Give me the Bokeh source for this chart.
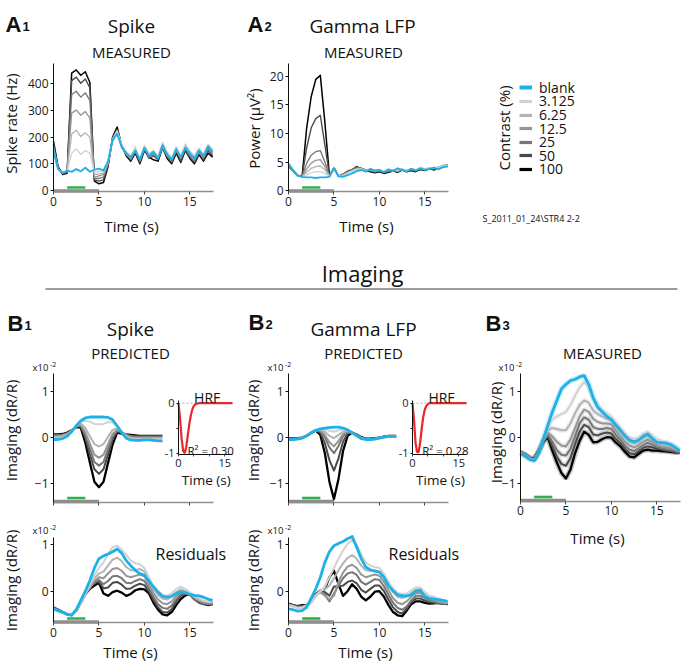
from math import pi
from bokeh.plotting import figure
from bokeh.models import Range1d, Label, Legend, LegendItem, FixedTicker, LinearAxis
from bokeh.embed import file_html
from bokeh.resources import INLINE

FONT = "Open Sans"
BOLD = "Liberation Sans"

# ---------------------------------------------------------------- data
TIME = [0, 0.5, 1, 1.5, 2, 2.5, 3, 3.5, 4, 4.5, 5, 5.5, 6, 6.5, 7, 7.5, 8, 8.5,
        9, 9.5, 10, 10.5, 11, 11.5, 12, 12.5, 13, 13.5, 14, 14.5, 15, 15.5, 16, 16.5, 17, 17.5]
CONDITIONS = ["blank", "3.125", "6.25", "12.5", "25", "50", "100"]
STIM_TRIAL = [0, 5]
STIM_ON = [1.5, 3.5]

# A1: spike rate (Hz), measured
a1_blank = [150, 80, 65, 75, 70, 80, 72, 85, 70, 78, 82, 75, 110, 190, 212, 165, 140, 125,
            150, 115, 160, 130, 145, 120, 170, 135, 115, 155, 125, 160, 140, 120, 150, 130, 165, 145]
a1_c3125 = [150, 80, 66, 75, 140, 156, 135, 150, 140, 70, 72, 70, 108, 195, 225, 175, 145, 130,
            165, 120, 170, 140, 150, 130, 180, 145, 125, 165, 130, 175, 150, 130, 160, 135, 175, 155]
a1_c625 = [155, 80, 68, 74, 212, 226, 202, 216, 200, 60, 62, 65, 105, 190, 220, 170, 140, 125,
           155, 120, 165, 135, 145, 125, 175, 140, 120, 160, 130, 170, 140, 125, 155, 130, 170, 150]
a1_c125 = [160, 82, 66, 72, 290, 302, 282, 296, 272, 50, 55, 60, 100, 185, 215, 165, 135, 120,
           150, 115, 155, 130, 140, 120, 165, 130, 115, 150, 120, 160, 135, 115, 145, 125, 160, 140]
a1_c25 = [165, 85, 65, 70, 360, 372, 350, 366, 338, 45, 45, 50, 100, 190, 222, 160, 140, 115,
          145, 110, 160, 125, 135, 120, 160, 130, 110, 150, 120, 155, 130, 110, 145, 120, 155, 135]
a1_c50 = [175, 85, 62, 68, 412, 425, 402, 418, 385, 40, 35, 40, 95, 195, 228, 165, 135, 120,
          150, 105, 155, 120, 130, 115, 165, 125, 105, 145, 110, 155, 125, 105, 140, 115, 150, 130]
a1_c100 = [185, 90, 60, 65, 440, 452, 432, 445, 405, 35, 25, 30, 90, 200, 238, 170, 130, 110,
           140, 100, 150, 125, 115, 110, 160, 120, 100, 140, 105, 150, 120, 100, 135, 110, 140, 125]

# A2: gamma LFP power (uV^2), measured
a2_blank = [4.7, 3.6, 2.6, 2.4, 2.3, 2.3, 2.2, 2.3, 2.3, 2.4, 3.9, 2.5, 2.4, 2.7, 3.0, 3.4, 3.6, 3.3,
            3.8, 3.5, 3.6, 3.2, 3.7, 3.4, 3.9, 3.6, 3.3, 3.8, 3.5, 3.9, 3.6, 3.8, 4.0, 3.7, 4.1, 4.2]
a2_c3125 = [4.7, 3.6, 2.6, 2.4, 2.8, 3.1, 3.3, 3.3, 3.0, 2.5, 4.0, 2.5, 2.6, 3.0, 3.4, 3.7, 3.8, 3.4,
            3.8, 3.5, 3.7, 3.3, 3.7, 3.5, 3.6, 3.8, 3.4, 3.9, 3.6, 4.1, 3.8, 4.0, 4.0, 4.0, 4.5, 4.5]
a2_c625 = [4.6, 3.6, 2.6, 2.4, 3.2, 3.9, 4.2, 4.3, 3.6, 2.5, 4.0, 2.5, 2.7, 3.1, 3.5, 3.8, 3.8, 3.5,
           3.7, 3.4, 3.6, 3.3, 3.6, 3.6, 3.5, 3.8, 3.5, 3.8, 3.6, 4.0, 3.8, 4.0, 3.9, 4.1, 4.4, 4.4]
a2_c125 = [4.5, 3.6, 2.6, 2.4, 3.8, 4.8, 5.3, 5.4, 4.2, 2.5, 4.0, 2.5, 2.8, 3.2, 3.5, 3.9, 3.9, 3.6,
           3.6, 3.4, 3.5, 3.3, 3.5, 3.6, 3.4, 3.7, 3.5, 3.8, 3.6, 3.9, 3.7, 3.9, 3.9, 4.0, 4.3, 4.3]
a2_c25 = [4.4, 3.5, 2.6, 2.4, 4.8, 6.2, 6.8, 7.0, 5.0, 2.6, 4.0, 2.5, 2.8, 3.3, 3.6, 4.0, 3.8, 3.5,
          3.5, 3.3, 3.5, 3.2, 3.4, 3.5, 3.3, 3.6, 3.5, 3.7, 3.5, 3.9, 3.7, 3.9, 3.8, 4.0, 4.2, 4.3]
a2_c50 = [4.2, 3.4, 2.6, 2.5, 7.5, 11.0, 12.6, 13.2, 8.0, 2.7, 3.9, 2.5, 2.9, 3.4, 3.7, 4.1, 3.9, 3.6,
          3.4, 3.2, 3.4, 3.1, 3.3, 3.5, 3.3, 3.7, 3.4, 3.6, 3.4, 3.8, 3.6, 3.8, 3.7, 4.1, 4.3, 4.4]
a2_c100 = [4.3, 3.5, 2.7, 2.5, 11.0, 16.5, 19.5, 20.2, 12.0, 2.6, 4.0, 2.5, 2.8, 3.3, 3.6, 4.2, 3.8, 3.5,
           3.3, 3.1, 3.3, 3.0, 3.2, 3.4, 3.2, 3.6, 3.3, 3.5, 3.3, 3.7, 3.5, 3.9, 3.6, 4.0, 4.4, 4.5]

# B1 top: imaging predicted from spikes (x1e-2)
b1t_blank = [-0.05, -0.05, -0.03, 0.02, 0.12, 0.25, 0.36, 0.42, 0.44, 0.44, 0.44, 0.44,
             0.43, 0.38, 0.25, 0.10, -0.02, -0.06, -0.07, -0.07, -0.06, -0.06, -0.07, -0.08,
             -0.08, -0.08, -0.07, -0.07, -0.06, -0.06, -0.06, -0.06, -0.05, -0.05, -0.05, -0.05]
b1t_c3125 = [-0.03, -0.03, -0.01, 0.04, 0.13, 0.25, 0.34, 0.36, 0.34, 0.29, 0.28, 0.29,
             0.33, 0.32, 0.23, 0.11, 0.0, -0.04, -0.05, -0.05, -0.05, -0.05, -0.05, -0.05,
             -0.05, -0.05, -0.05, -0.05, -0.05, -0.05, -0.05, -0.05, -0.05, -0.05, -0.05, -0.05]
b1t_c625 = [0.0, 0.0, 0.02, 0.05, 0.13, 0.25, 0.30, 0.20, 0.02, -0.15, -0.20, -0.15,
            0.01, 0.16, 0.19, 0.12, 0.02, -0.02, -0.03, -0.03, -0.03, -0.03, -0.03, -0.03,
            -0.03, -0.03, -0.03, -0.03, -0.03, -0.03, -0.03, -0.03, -0.03, -0.03, -0.03, -0.03]
b1t_c125 = [0.02, 0.02, 0.04, 0.07, 0.14, 0.24, 0.27, 0.11, -0.14, -0.38, -0.45, -0.38,
            -0.15, 0.07, 0.16, 0.12, 0.04, 0.0, -0.01, -0.01, -0.01, -0.01, -0.01, -0.01,
            -0.01, -0.01, -0.01, -0.01, -0.01, -0.01, -0.01, -0.01, -0.01, -0.01, -0.01, -0.01]
b1t_c25 = [0.04, 0.04, 0.05, 0.08, 0.15, 0.24, 0.25, 0.05, -0.25, -0.54, -0.62, -0.54,
           -0.26, 0.01, 0.14, 0.11, 0.05, 0.02, 0.01, 0.01, 0.01, 0.01, 0.01, 0.01,
           0.01, 0.01, 0.01, 0.01, 0.01, 0.01, 0.01, 0.01, 0.01, 0.01, 0.01, 0.01]
b1t_c50 = [0.05, 0.05, 0.06, 0.09, 0.15, 0.23, 0.24, -0.01, -0.37, -0.70, -0.80, -0.70,
           -0.38, -0.05, 0.13, 0.10, 0.05, 0.03, 0.02, 0.02, 0.02, 0.02, 0.02, 0.02,
           0.02, 0.02, 0.02, 0.02, 0.02, 0.02, 0.02, 0.02, 0.02, 0.02, 0.02, 0.02]
b1t_c100 = [0.06, 0.06, 0.07, 0.10, 0.15, 0.22, 0.21, -0.12, -0.55, -0.97, -1.09, -0.97,
            -0.56, -0.16, 0.10, 0.08, 0.06, 0.05, 0.04, 0.03, 0.03, 0.03, 0.03, 0.03,
            0.03, 0.03, 0.03, 0.03, 0.03, 0.03, 0.03, 0.03, 0.03, 0.03, 0.03, 0.03]

# B2 top: imaging predicted from gamma LFP (x1e-2)
b2t_blank = [-0.05, -0.05, -0.04, -0.02, 0.03, 0.10, 0.15, 0.18, 0.20, 0.21, 0.22, 0.22,
             0.20, 0.16, 0.10, 0.03, -0.03, -0.05, -0.05, -0.04, -0.02, 0.0, 0.02, 0.02,
             0.01, 0.0, 0.0, 0.01, 0.02, 0.02, 0.02, 0.01, 0.01, 0.02, 0.03, 0.03]
b2t_c3125 = [-0.05, -0.05, -0.04, -0.02, 0.03, 0.10, 0.15, 0.17, 0.17, 0.14, 0.12, 0.15,
             0.17, 0.15, 0.10, 0.03, -0.03, -0.05, -0.05, -0.04, -0.02, 0.0, 0.02, 0.02,
             0.01, 0.0, 0.0, 0.01, 0.02, 0.02, 0.02, 0.01, 0.01, 0.02, 0.03, 0.03]
b2t_c625 = [-0.04, -0.04, -0.04, -0.02, 0.03, 0.10, 0.15, 0.16, 0.12, 0.03, -0.02, 0.05,
            0.12, 0.14, 0.10, 0.04, -0.02, -0.05, -0.05, -0.04, -0.02, 0.0, 0.02, 0.02,
            0.01, 0.0, 0.0, 0.01, 0.02, 0.02, 0.02, 0.01, 0.01, 0.02, 0.03, 0.03]
b2t_c125 = [-0.04, -0.04, -0.03, -0.02, 0.03, 0.10, 0.15, 0.15, 0.05, -0.11, -0.20, -0.08,
            0.07, 0.13, 0.10, 0.04, -0.02, -0.04, -0.04, -0.03, -0.01, 0.0, 0.02, 0.02,
            0.01, 0.01, 0.01, 0.02, 0.03, 0.03, 0.02, 0.02, 0.02, 0.03, 0.03, 0.03]
b2t_c25 = [-0.03, -0.03, -0.03, -0.02, 0.03, 0.10, 0.15, 0.13, 0.0, -0.22, -0.35, -0.19,
           0.02, 0.11, 0.10, 0.05, -0.01, -0.04, -0.04, -0.03, -0.01, 0.01, 0.02, 0.02,
           0.02, 0.01, 0.01, 0.02, 0.03, 0.03, 0.03, 0.02, 0.02, 0.03, 0.04, 0.04]
b2t_c50 = [-0.03, -0.03, -0.03, -0.01, 0.03, 0.09, 0.15, 0.10, -0.13, -0.50, -0.73, -0.46,
           -0.10, 0.08, 0.10, 0.05, -0.01, -0.04, -0.04, -0.03, -0.01, 0.01, 0.02, 0.02,
           0.02, 0.01, 0.01, 0.02, 0.03, 0.03, 0.03, 0.03, 0.03, 0.04, 0.04, 0.04]
b2t_c100 = [-0.02, -0.02, -0.02, -0.01, 0.03, 0.09, 0.15, 0.05, -0.35, -0.97, -1.35, -0.91,
            -0.30, 0.03, 0.10, 0.06, 0.0, -0.03, -0.03, -0.02, -0.01, 0.01, 0.03, 0.03,
            0.03, 0.02, 0.02, 0.03, 0.04, 0.04, 0.04, 0.04, 0.04, 0.05, 0.05, 0.05]

# B1 bottom: residuals (spike)
b1b_blank = [-0.38, -0.42, -0.45, -0.50, -0.52, -0.40, -0.20, 0.0, 0.23, 0.50, 0.70, 0.76,
             0.80, 0.85, 0.91, 0.82, 0.66, 0.55, 0.45, 0.38, 0.34, 0.22, 0.09, -0.02,
             -0.11, -0.13, -0.11, -0.05, -0.01, -0.03, -0.07, -0.09, -0.10, -0.13, -0.17, -0.20]
b1b_c3125 = [-0.40, -0.44, -0.47, -0.50, -0.50, -0.42, -0.25, -0.05, 0.15, 0.35, 0.50, 0.62,
             0.80, 0.95, 0.98, 0.90, 0.78, 0.66, 0.60, 0.58, 0.50, 0.30, 0.12, 0.0,
             -0.08, -0.10, -0.05, 0.05, 0.10, 0.05, -0.02, -0.10, -0.15, -0.20, -0.22, -0.22]
b1b_c625 = [-0.38, -0.43, -0.47, -0.50, -0.50, -0.42, -0.25, -0.06, 0.10, 0.28, 0.38, 0.42,
            0.55, 0.68, 0.72, 0.65, 0.52, 0.45, 0.45, 0.48, 0.42, 0.22, 0.05, -0.08,
            -0.16, -0.18, -0.12, -0.02, 0.04, 0.0, -0.05, -0.12, -0.18, -0.22, -0.24, -0.24]
b1b_c125 = [-0.37, -0.42, -0.46, -0.50, -0.50, -0.42, -0.25, -0.06, 0.08, 0.22, 0.30, 0.28,
            0.38, 0.48, 0.50, 0.44, 0.33, 0.30, 0.33, 0.36, 0.32, 0.14, -0.04, -0.18,
            -0.26, -0.28, -0.22, -0.10, -0.02, -0.03, -0.07, -0.14, -0.20, -0.24, -0.26, -0.26]
b1b_c25 = [-0.36, -0.41, -0.46, -0.50, -0.50, -0.42, -0.25, -0.06, 0.07, 0.20, 0.24, 0.15,
           0.22, 0.32, 0.33, 0.28, 0.18, 0.17, 0.22, 0.26, 0.22, 0.06, -0.12, -0.28,
           -0.36, -0.38, -0.31, -0.17, -0.06, -0.05, -0.08, -0.16, -0.22, -0.26, -0.28, -0.27]
b1b_c50 = [-0.35, -0.40, -0.45, -0.50, -0.50, -0.42, -0.25, -0.06, 0.06, 0.18, 0.20, 0.06,
           0.08, 0.18, 0.20, 0.14, 0.05, 0.06, 0.12, 0.16, 0.13, -0.01, -0.19, -0.35,
           -0.45, -0.46, -0.39, -0.22, -0.10, -0.06, -0.08, -0.18, -0.25, -0.28, -0.29, -0.27]
b1b_c100 = [-0.35, -0.40, -0.45, -0.50, -0.50, -0.42, -0.25, -0.06, 0.05, 0.12, 0.18, -0.05,
            -0.10, -0.02, 0.01, -0.03, -0.10, -0.06, 0.02, 0.05, 0.04, -0.05, -0.25, -0.40,
            -0.50, -0.52, -0.45, -0.30, -0.17, -0.09, -0.07, -0.12, -0.20, -0.27, -0.30, -0.28]

# B2 bottom: residuals (gamma LFP)
b2b_blank = [-0.38, -0.40, -0.43, -0.42, -0.35, -0.15, 0.05, 0.30, 0.62, 0.85, 0.98, 1.03,
             1.07, 1.13, 1.18, 0.95, 0.70, 0.52, 0.46, 0.43, 0.41, 0.30, 0.12, 0.01,
             -0.08, -0.10, -0.10, -0.08, 0.0, 0.02, -0.12, -0.16, -0.17, -0.18, -0.20, -0.22]
b2b_c3125 = [-0.30, -0.33, -0.36, -0.35, -0.32, -0.25, -0.10, 0.0, 0.10, 0.30, 0.50, 0.70,
             0.88, 1.02, 1.10, 1.00, 0.80, 0.62, 0.55, 0.52, 0.50, 0.38, 0.20, 0.06,
             -0.04, -0.06, -0.05, 0.02, 0.08, 0.08, -0.02, -0.10, -0.12, -0.16, -0.20, -0.22]
b2b_c625 = [-0.30, -0.33, -0.36, -0.35, -0.32, -0.25, -0.10, 0.0, 0.04, 0.12, 0.28, 0.45,
            0.60, 0.72, 0.78, 0.70, 0.55, 0.45, 0.44, 0.45, 0.42, 0.30, 0.12, -0.02,
            -0.12, -0.15, -0.12, -0.04, 0.04, 0.04, -0.05, -0.12, -0.16, -0.20, -0.22, -0.24]
b2b_c125 = [-0.29, -0.32, -0.35, -0.34, -0.31, -0.24, -0.10, -0.02, -0.10, -0.18, -0.10, 0.20,
            0.40, 0.53, 0.57, 0.50, 0.36, 0.30, 0.33, 0.36, 0.33, 0.20, 0.02, -0.15,
            -0.25, -0.28, -0.22, -0.12, -0.04, -0.04, -0.10, -0.16, -0.20, -0.23, -0.25, -0.26]
b2b_c25 = [-0.28, -0.31, -0.34, -0.33, -0.30, -0.23, -0.08, 0.0, -0.08, -0.22, -0.05, 0.12,
           0.28, 0.38, 0.41, 0.35, 0.20, 0.14, 0.20, 0.26, 0.24, 0.10, -0.08, -0.25,
           -0.36, -0.40, -0.33, -0.20, -0.10, -0.10, -0.15, -0.20, -0.23, -0.25, -0.26, -0.27]
b2b_c50 = [-0.27, -0.30, -0.33, -0.32, -0.30, -0.22, -0.06, 0.02, -0.02, -0.10, 0.10, 0.10,
           0.12, 0.20, 0.23, 0.17, 0.03, -0.03, 0.05, 0.12, 0.12, 0.0, -0.18, -0.35,
           -0.45, -0.48, -0.38, -0.24, -0.16, -0.16, -0.20, -0.24, -0.25, -0.26, -0.27, -0.28]
b2b_c100 = [-0.27, -0.30, -0.32, -0.30, -0.30, -0.22, -0.08, 0.0, 0.05, 0.30, 0.44, 0.15,
            -0.10, 0.0, 0.15, 0.05, -0.12, -0.20, -0.12, -0.01, 0.0, -0.12, -0.30, -0.45,
            -0.52, -0.54, -0.42, -0.28, -0.22, -0.22, -0.25, -0.27, -0.26, -0.25, -0.27, -0.28]

# B3: imaging measured (x1e-2)
b3_blank = [-0.36, -0.40, -0.48, -0.51, -0.35, -0.05, 0.25, 0.55, 0.80, 1.05, 1.15, 1.23,
            1.26, 1.31, 1.34, 1.15, 0.85, 0.65, 0.55, 0.45, 0.38, 0.26, 0.15, 0.03,
            -0.06, -0.10, -0.06, 0.02, 0.07, -0.03, -0.11, -0.12, -0.13, -0.16, -0.22, -0.29]
b3_c3125 = [-0.34, -0.40, -0.47, -0.50, -0.33, -0.06, 0.22, 0.38, 0.45, 0.50, 0.55, 0.70,
            0.90, 1.08, 1.20, 1.10, 0.85, 0.70, 0.60, 0.52, 0.45, 0.32, 0.20, 0.08,
            0.0, -0.04, 0.0, 0.08, 0.12, 0.04, -0.04, -0.08, -0.10, -0.14, -0.20, -0.26]
b3_c625 = [-0.34, -0.39, -0.46, -0.49, -0.32, -0.07, 0.15, 0.20, 0.18, 0.15, 0.15, 0.30,
           0.52, 0.70, 0.80, 0.75, 0.58, 0.50, 0.45, 0.40, 0.36, 0.22, 0.10, -0.02,
           -0.10, -0.14, -0.10, -0.02, 0.03, -0.04, -0.12, -0.15, -0.17, -0.20, -0.25, -0.30]
b3_c125 = [-0.33, -0.39, -0.46, -0.49, -0.32, -0.08, 0.10, 0.02, -0.10, -0.18, -0.20, -0.05,
           0.20, 0.45, 0.60, 0.55, 0.40, 0.33, 0.30, 0.30, 0.28, 0.14, 0.02, -0.10,
           -0.18, -0.22, -0.17, -0.10, -0.05, -0.10, -0.17, -0.20, -0.22, -0.24, -0.27, -0.31]
b3_c25 = [-0.33, -0.38, -0.45, -0.48, -0.31, -0.09, 0.06, -0.10, -0.28, -0.38, -0.40, -0.25,
          0.02, 0.30, 0.43, 0.38, 0.22, 0.18, 0.18, 0.20, 0.18, 0.05, -0.06, -0.18,
          -0.27, -0.30, -0.24, -0.17, -0.12, -0.16, -0.21, -0.24, -0.26, -0.28, -0.30, -0.32]
b3_c50 = [-0.33, -0.38, -0.45, -0.48, -0.31, -0.10, 0.03, -0.20, -0.42, -0.58, -0.62, -0.45,
          -0.15, 0.12, 0.27, 0.22, 0.06, 0.04, 0.08, 0.10, 0.08, -0.04, -0.13, -0.25,
          -0.35, -0.37, -0.30, -0.23, -0.20, -0.22, -0.25, -0.27, -0.29, -0.30, -0.32, -0.33]
b3_c100 = [-0.33, -0.38, -0.45, -0.47, -0.30, -0.10, 0.0, -0.29, -0.55, -0.78, -0.90, -0.70,
           -0.35, -0.08, 0.12, 0.05, -0.11, -0.10, -0.04, 0.0, -0.01, -0.12, -0.20, -0.32,
           -0.42, -0.44, -0.36, -0.29, -0.27, -0.29, -0.29, -0.30, -0.31, -0.32, -0.33, -0.33]

# HRF insets (normalised)
hrf_spike = [0, -0.3, -0.7, -0.95, -1.0, -0.88, -0.65, -0.42, -0.24, -0.12, -0.05, -0.02,
             -0.01, 0, 0, 0, 0, 0, 0, 0, 0, 0, 0, 0, 0, 0, 0, 0, 0, 0, 0, 0, 0, 0, 0, 0]
hrf_gamma = [0, -0.35, -0.8, -0.98, -0.98, -0.78, -0.5, -0.27, -0.12, -0.05, -0.02, 0,
             0, 0, 0, 0, 0, 0, 0, 0, 0, 0, 0, 0, 0, 0, 0, 0, 0, 0, 0, 0, 0, 0, 0, 0]
HRF_BASELINE = 0
R2_SPIKE = "R\u00b2 = 0.30"
R2_GAMMA = "R\u00b2 = 0.28"


def series(blank, c3125, c625, c125, c25, c50, c100):
    d = {"blank": blank, "3.125": c3125, "6.25": c625, "12.5": c125, "25": c25, "50": c50, "100": c100}
    for k, v in d.items():
        if len(v) != len(TIME):
            raise ValueError(f"series {k} has {len(v)} values")
    return d


A1 = series(a1_blank, a1_c3125, a1_c625, a1_c125, a1_c25, a1_c50, a1_c100)
A2 = series(a2_blank, a2_c3125, a2_c625, a2_c125, a2_c25, a2_c50, a2_c100)
B1T = series(b1t_blank, b1t_c3125, b1t_c625, b1t_c125, b1t_c25, b1t_c50, b1t_c100)
B2T = series(b2t_blank, b2t_c3125, b2t_c625, b2t_c125, b2t_c25, b2t_c50, b2t_c100)
B1B = series(b1b_blank, b1b_c3125, b1b_c625, b1b_c125, b1b_c25, b1b_c50, b1b_c100)
B2B = series(b2b_blank, b2b_c3125, b2b_c625, b2b_c125, b2b_c25, b2b_c50, b2b_c100)
B3 = series(b3_blank, b3_c3125, b3_c625, b3_c125, b3_c25, b3_c50, b3_c100)

# ---------------------------------------------------------------- style
COLORS = {"blank": "#1eb1e7", "3.125": "#d2d2d2", "6.25": "#b3b3b3", "12.5": "#959595",
          "25": "#767676", "50": "#4a4a4a", "100": "#000000"}
DRAW_ORDER = ["100", "50", "25", "12.5", "6.25", "3.125", "blank"]
W_A = {"blank": 1.9, "3.125": 1.3, "6.25": 1.3, "12.5": 1.3, "25": 1.3, "50": 1.4, "100": 1.5}
W_B = {"blank": 2.8, "3.125": 2.0, "6.25": 2.0, "12.5": 2.0, "25": 2.0, "50": 2.0, "100": 2.3}

# one canvas; the default ranges are page pixels (y downwards) for the texts,
# every panel gets its own data ranges mapped onto its own box.
PX0, PX1, PY0, PY1 = 0, 682, 0, 663
p = figure(width=PX1 - PX0, height=PY1 - PY0, x_range=Range1d(PX0, PX1), y_range=Range1d(PY1, PY0),
           x_axis_type=None, y_axis_type=None, output_backend="svg", toolbar_location=None,
           min_border=0)
p.outline_line_color = None


def panel(name, frame, xr, yr):
    x0, y0, x1, y1 = frame
    dx = (xr[1] - xr[0]) / (x1 - x0)
    dy = (yr[1] - yr[0]) / (y1 - y0)
    p.extra_x_ranges[name] = Range1d(xr[0] - (x0 - PX0) * dx, xr[1] + (PX1 - x1) * dx)
    p.extra_y_ranges[name] = Range1d(yr[0] - (PY1 - y1) * dy, yr[1] + (y0 - PY0) * dy)
    return dict(x_range_name=name, y_range_name=name), 1.0 / dy


def axes(name, xr, yr, xticks, yticks, xover=None, yover=None, tick_font="12px",
         xcolor="#8f8f8f", xwidth=1.6, tick_out=3):
    ya = LinearAxis(x_range_name=name, y_range_name=name, fixed_location=xr[0], bounds=yr,
                    ticker=FixedTicker(ticks=yticks, minor_ticks=[]))
    xa = LinearAxis(x_range_name=name, y_range_name=name, fixed_location=yr[0], bounds=xr,
                    ticker=FixedTicker(ticks=xticks, minor_ticks=[]))
    for ax in (xa, ya):
        ax.major_tick_in = 0
        ax.major_tick_out = tick_out
        ax.minor_tick_line_color = None
        ax.major_label_text_font = FONT
        ax.major_label_text_font_size = tick_font
        ax.major_label_text_color = "#1a1a1a"
        ax.major_label_standoff = 2
    ya.axis_line_color = "#111111"
    ya.major_tick_line_color = "#111111"
    xa.axis_line_color = xcolor
    xa.axis_line_width = xwidth
    xa.major_tick_line_color = "#444444"
    if xover:
        xa.major_label_overrides = xover
    if yover:
        ya.major_label_overrides = yover
    p.add_layout(ya, "left")
    p.add_layout(xa, "below")


def draw_series(rn, data, widths, halo=False):
    if halo:
        for c in DRAW_ORDER:
            p.line(TIME, data[c], line_color=COLORS[c], line_width=widths[c] + 3.0,
                   line_alpha=0.22, **rn)
    for c in DRAW_ORDER:
        p.line(TIME, data[c], line_color=COLORS[c], line_width=widths[c], line_join="round", **rn)


def draw_stim(rn, yr, ppu):
    y_gray = yr[0] + 0.5 / ppu
    y_green = yr[0] + 4.0 / ppu
    p.line(STIM_TRIAL, [y_gray, y_gray], line_color="#8d8d8d", line_width=3.4, **rn)
    p.line(STIM_ON, [y_green, y_green], line_color="#30b04c", line_width=2.6, **rn)


def txt(x, y, s, size, align="center", baseline="middle", font=FONT, style="normal", angle=0.0):
    p.add_layout(Label(x=x, y=y, text=s, text_font=font, text_font_size=size,
                       text_align=align, text_baseline=baseline, text_font_style=style,
                       text_color="#111111", angle=angle))


XT = [0, 5, 10, 15]
NOLAB = {0: "", 5: "", 10: "", 15: ""}
MINUS1 = {-1: "\u22121"}
XR = (0, 17.6)

# ---------------------------------------------------------------- A1
yA1 = (-3.75, 476)
rn, ppu = panel("a1", (53, 63, 213, 191), XR, yA1)
draw_stim(rn, yA1, ppu)
draw_series(rn, A1, W_A)
axes("a1", XR, yA1, XT, [0, 100, 200, 300, 400])

# ---------------------------------------------------------------- A2
yA2 = (-0.175, 22.28)
rn, ppu = panel("a2", (288, 63, 448, 191), XR, yA2)
draw_stim(rn, yA2, ppu)
draw_series(rn, A2, W_A)
axes("a2", XR, yA2, XT, [0, 5, 10, 15, 20])

# ---------------------------------------------------------------- B1 / B2 top
yBT = (-1.413, 1.389)
rn, ppu = panel("b1t", (53, 373, 213, 501.5), XR, yBT)
draw_stim(rn, yBT, ppu)
draw_series(rn, B1T, W_B)
axes("b1t", XR, yBT, XT, [-1, 0, 1], xover=NOLAB, yover=MINUS1)

rn, ppu = panel("b2t", (288, 373, 448, 501.5), XR, yBT)
draw_stim(rn, yBT, ppu)
draw_series(rn, B2T, W_B)
axes("b2t", XR, yBT, XT, [-1, 0, 1], xover=NOLAB, yover=MINUS1)

# ---------------------------------------------------------------- B1 / B2 bottom
yBB = (-0.675, 1.157)
rn, ppu = panel("b1b", (53, 537, 213, 622), XR, yBB)
draw_stim(rn, yBB, ppu)
draw_series(rn, B1B, W_B)
axes("b1b", XR, yBB, XT, [0, 1])

rn, ppu = panel("b2b", (288, 537, 448, 622), XR, yBB)
draw_stim(rn, yBB, ppu)
draw_series(rn, B2B, W_B)
axes("b2b", XR, yBB, XT, [0, 1])

# ---------------------------------------------------------------- B3
yB3 = (-1.387, 1.385)
rn, ppu = panel("b3", (520, 373, 680, 500.5), XR, yB3)
draw_stim(rn, yB3, ppu)
draw_series(rn, B3, W_B, halo=True)
axes("b3", XR, yB3, XT, [-1, 0, 1], yover=MINUS1)


# ---------------------------------------------------------------- HRF insets
def inset(name, frame, hrf):
    xr, yr = (0, 17.5), (-1.026, 0.054)
    rn, ppu = panel(name, frame, xr, yr)
    x0, y0, x1, y1 = frame
    ppx = (x1 - x0) / (xr[1] - xr[0])
    # white backing box of the inset (covers the main traces underneath)
    p.quad(left=[xr[0] - 16 / ppx], right=[xr[1] + 2 / ppx],
           bottom=[yr[0] - 28 / ppu], top=[yr[1] + 3 / ppu],
           fill_color="white", line_color=None, **rn)
    p.line([xr[0], xr[1]], [HRF_BASELINE, HRF_BASELINE], line_color="#b0b0b0",
           line_dash="2 2", line_width=1, **rn)
    p.line(TIME, hrf, line_color="#e8262b", line_width=2.2, **rn)
    axes(name, xr, yr, XT, [-1, -0.5, 0], xover={0: "0", 5: "", 10: "", 15: "15"},
         yover={-1: "-1", -0.5: "", 0: "0"}, tick_font="11px", xcolor="#111111",
         xwidth=1.0, tick_out=2)


inset("h1", (178, 400, 232, 454), hrf_spike)
inset("h2", (412, 400, 466, 454), hrf_gamma)

# ---------------------------------------------------------------- legend (one row per legend)
NAN = float("nan")
ROW_H = 20
for i, c in enumerate(CONDITIONS):
    r = p.line(x=[NAN, NAN], y=[NAN, NAN], line_color=COLORS[c],
               line_width=4 if c == "blank" else 3.2)
    row_center = 87.3 + 13.6 * i
    leg = Legend(items=[LegendItem(label=c, renderers=[r])],
                 location=(519 - PX0, PY1 - (row_center + ROW_H / 2)),
                 glyph_width=13, glyph_height=ROW_H, label_height=ROW_H, label_standoff=7,
                 spacing=0, padding=0, margin=0,
                 label_text_font=FONT, label_text_font_size="14px", label_text_color="#111111",
                 border_line_alpha=0, background_fill_alpha=0)
    p.add_layout(leg, "center")

# ---------------------------------------------------------------- texts
for (x, y, s, size) in [(131, 25, "Spike", "19px"), (131, 51, "MEASURED", "15px"),
                        (362, 25, "Gamma LFP", "19px"), (363, 51, "MEASURED", "15px"),
                        (362, 272, "Imaging", "22px"),
                        (130, 328, "Spike", "19px"), (130, 352, "PREDICTED", "15px"),
                        (363, 328, "Gamma LFP", "19px"), (363, 352, "PREDICTED", "15px"),
                        (602, 352, "MEASURED", "15px")]:
    txt(x, y, s, size)

for (x, y, letter, sub) in [(5, 24, "A", "1"), (247, 24, "A", "2"),
                            (7, 323, "B", "1"), (248, 322, "B", "2"), (485, 323, "B", "3")]:
    txt(x, y, letter, "22px", align="left", baseline="alphabetic", font=BOLD, style="bold")
    txt(x + 17, y + 2, sub, "13px", align="left", baseline="alphabetic", font=BOLD, style="bold")

# axis titles
for (x, y, s) in [(10, 123, "Spike rate (Hz)"), (253, 128, "Power (\u03bcV\u00b2)"),
                  (10, 430, "Imaging (dR/R)"), (10, 580, "Imaging (dR/R)"),
                  (252, 430, "Imaging (dR/R)"), (252, 580, "Imaging (dR/R)"),
                  (495, 432, "Imaging (dR/R)")]:
    txt(x, y, s, "15px", angle=pi / 2)
for (x, y) in [(131, 225), (366, 225), (130, 651), (365, 651), (597, 537)]:
    txt(x, y, "Time (s)", "15px", baseline="alphabetic")

# inset texts
for (cx, r2x, r2) in [(206.7, 187, R2_SPIKE), (441, 421.7, R2_GAMMA)]:
    txt(cx, 396.5, "HRF", "14px", baseline="alphabetic")
    txt(r2x, 450, r2, "11.5px", align="left", baseline="alphabetic")
    txt(cx - 1, 479, "Time (s)", "13.5px", baseline="alphabetic")

txt(155, 553, "Residuals", "16px", align="left")
txt(388, 553, "Residuals", "16px", align="left")

for (x, y) in [(32, 367), (32, 530), (267, 367), (267, 530), (498, 367)]:
    txt(x, y, "x10", "9.5px", align="left")
    txt(x + 17.5, y - 3.5, "-2", "7px", align="left")

txt(503, 127.5, "Contrast (%)", "15px", angle=pi / 2)
txt(482, 218, "S_2011_01_24\\STR4 2-2", "9px", align="left")

p.segment(x0=[45], y0=[288.5], x1=[677], y1=[288.5], line_color="#3a3a3a", line_width=1.2)

with open("out.html", "w") as f:
    f.write(file_html(p, INLINE))
